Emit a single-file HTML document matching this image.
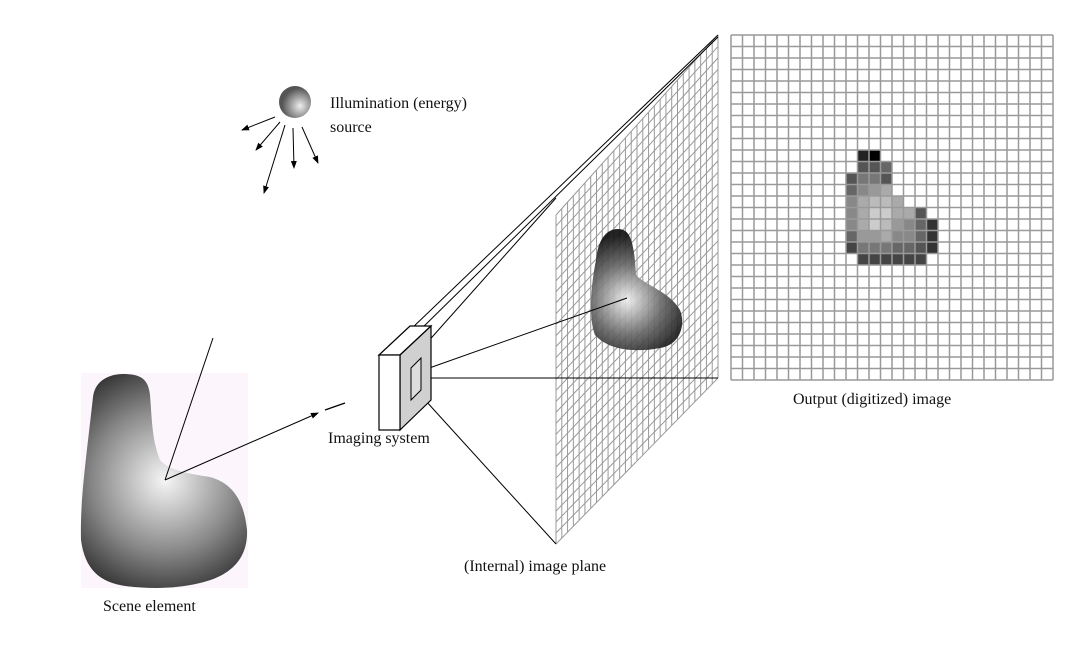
<!DOCTYPE html>
<html><head><meta charset="utf-8"><style>
html,body{margin:0;padding:0;background:#fff;}
svg{display:block;}
text{font-family:"Liberation Serif",serif;font-size:16px;fill:#111;}
</style></head><body>
<svg id="s" width="1091" height="652" viewBox="0 0 1091 652" xmlns="http://www.w3.org/2000/svg">
<defs>
<radialGradient id="g1" cx="165" cy="480" r="120" gradientUnits="userSpaceOnUse">
<stop offset="0" stop-color="#f6f6f6"/><stop offset="0.6" stop-color="#888"/><stop offset="1" stop-color="#333"/>
</radialGradient>
<radialGradient id="g2" cx="627" cy="300" r="65" gradientUnits="userSpaceOnUse">
<stop offset="0" stop-color="#eee"/><stop offset="0.55" stop-color="#666"/><stop offset="1" stop-color="#111"/>
</radialGradient>
<radialGradient id="g3" cx="300" cy="106" r="18" gradientUnits="userSpaceOnUse">
<stop offset="0" stop-color="#eee"/><stop offset="1" stop-color="#555"/>
</radialGradient>
<marker id="ar" markerWidth="8" markerHeight="8" refX="7" refY="4" orient="auto" markerUnits="userSpaceOnUse">
<path d="M0,1 L8,4 L0,7 z" fill="#000"/></marker>
</defs>
<rect x="81" y="373" width="167" height="215" fill="#fcf6fc"/>
<path d="M93,397 C95,380 110,374 123,374 C140,374 148,378 150,395 C152,420 152,440 160,460 C168,470 190,474 210,477 C232,483 244,500 247,530 C248,555 235,575 200,583 C175,589 150,589 125,586 C100,582 85,570 81,540 C80,500 86,460 93,397 Z" fill="url(#g1)"/>
<line x1="165" y1="480" x2="213" y2="338" stroke="#000" stroke-width="1"/>
<line x1="165" y1="480" x2="318" y2="413" stroke="#000" stroke-width="1" marker-end="url(#ar)"/>
<line x1="325" y1="410" x2="345" y2="403" stroke="#000" stroke-width="1.3"/>
<circle cx="295" cy="102" r="16" fill="url(#g3)"/>
<g stroke="#000" stroke-width="1" marker-end="url(#ar)">
<line x1="275" y1="117" x2="242" y2="130"/>
<line x1="280" y1="122" x2="256" y2="150"/>
<line x1="285" y1="125" x2="264" y2="193"/>
<line x1="293" y1="128" x2="294" y2="168"/>
<line x1="302" y1="127" x2="318" y2="163"/>
</g>
<text x="330" y="108">Illumination (energy)</text>
<text x="330" y="132">source</text>
<g id="pg" stroke="#999" stroke-width="1" fill="none"></g>
<path d="M596,260 C598,240 606,229 618,229 C630,229 634,240 636,275 C645,285 670,292 680,310 C686,325 680,345 660,348 C640,352 610,352 595,335 C589,320 590,290 596,260 Z" fill="url(#g2)" opacity="0.92"/>
<g stroke="#000" stroke-width="1">
<line x1="410" y1="330" x2="718" y2="35"/>
<line x1="416" y1="334" x2="718" y2="37"/>
<line x1="418" y1="372" x2="627" y2="298"/>
<line x1="420" y1="378" x2="718" y2="378"/>
<line x1="425" y1="400" x2="556" y2="544"/>
<line x1="425" y1="345" x2="556" y2="198"/>
</g>
<g stroke="#000" stroke-width="1.2">
<polygon points="379,355 410,326 431,326 400,355" fill="#fff"/>
<polygon points="400,355 431,326 431,400 400,430" fill="#d0d0d0"/>
<rect x="379" y="355" width="21" height="75" fill="#fff"/>
<polygon points="411,368 421,358 421,390 411,400" fill="#ddd" stroke-width="1"/>
</g>
<text x="328" y="443">Imaging system</text>
<g id="og"></g>
<g id="op" stroke="#999" stroke-width="1.5" fill="none"></g>
<text x="793" y="404">Output (digitized) image</text>
<text x="464" y="571">(Internal) image plane</text>
<text x="103" y="611">Scene element</text>
</svg>
<script>
var NS="http://www.w3.org/2000/svg";
function el(p,t,a){var e=document.createElementNS(NS,t);for(var k in a)e.setAttribute(k,a[k]);p.appendChild(e);return e;}
var pg=document.getElementById('pg');
var L=556,R=718,lt=215,lb=544,rt=35,rb=378,C=28,RW=30;
for(var i=0;i<=C;i++){var x=L+(R-L)*i/C;var t=lt+(rt-lt)*i/C,b=lb+(rb-lb)*i/C;el(pg,'line',{x1:x,y1:t,x2:x,y2:b});}
for(var j=0;j<=RW;j++){var y1=lt+(lb-lt)*j/RW,y2=rt+(rb-rt)*j/RW;el(pg,'line',{x1:L,y1:y1,x2:R,y2:y2});}
var og=document.getElementById('og'),op=document.getElementById('op');
var ox=731,oy=35,cw=11.5,ncol=28,nrow=30;
var px=[
[[1,'#222'],[2,'#000']],
[[1,'#555'],[2,'#555'],[3,'#666']],
[[0,'#555'],[1,'#777'],[2,'#777'],[3,'#555']],
[[0,'#666'],[1,'#888'],[2,'#999'],[3,'#aaa']],
[[0,'#888'],[1,'#aaa'],[2,'#bbb'],[3,'#bbb'],[4,'#aaa']],
[[0,'#888'],[1,'#aaa'],[2,'#ccc'],[3,'#ccc'],[4,'#aaa'],[5,'#aaa'],[6,'#555']],
[[0,'#888'],[1,'#aaa'],[2,'#ccc'],[3,'#bbb'],[4,'#999'],[5,'#888'],[6,'#666'],[7,'#333']],
[[0,'#666'],[1,'#999'],[2,'#999'],[3,'#aaa'],[4,'#888'],[5,'#888'],[6,'#666'],[7,'#333']],
[[0,'#444'],[1,'#777'],[2,'#777'],[3,'#777'],[4,'#666'],[5,'#666'],[6,'#555'],[7,'#333']],
[[1,'#444'],[2,'#444'],[3,'#444'],[4,'#444'],[5,'#444'],[6,'#444']]];
var bc=10,br=10;
for(var r=0;r<px.length;r++)for(var k=0;k<px[r].length;k++){var c=px[r][k];el(og,'rect',{x:ox+(bc+c[0])*cw,y:oy+(br+r)*cw,width:cw,height:cw,fill:c[1]});}
for(var i=0;i<=ncol;i++){var x=ox+i*cw;el(op,'line',{x1:x,y1:oy,x2:x,y2:oy+nrow*cw});}
for(var j=0;j<=nrow;j++){var y=oy+j*cw;el(op,'line',{x1:ox,y1:y,x2:ox+ncol*cw,y2:y});}
</script>
</body></html>
